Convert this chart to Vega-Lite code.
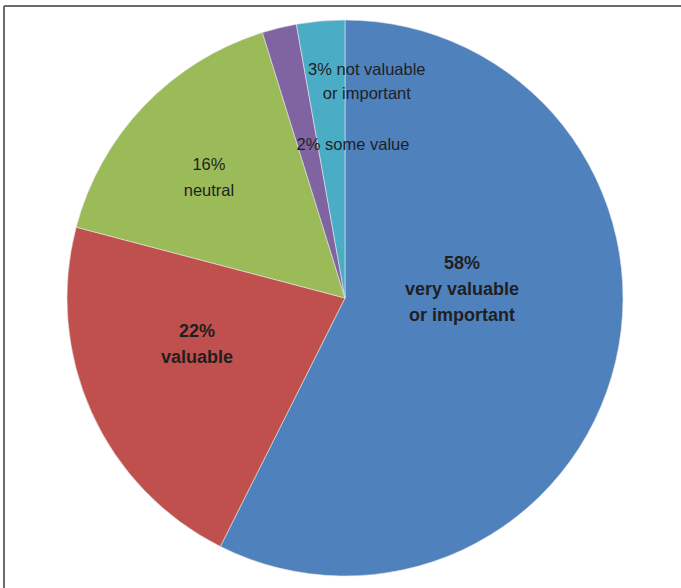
{
  "$schema": "https://vega.github.io/schema/vega-lite/v6.json",
  "width": 677,
  "height": 582,
  "autosize": {"type": "none"},
  "padding": {"left": 4, "top": 6, "right": 0, "bottom": 0},
  "background": "white",
  "config": {"view": {"stroke": null}},
  "data": {
    "values": [
      {"category": "very valuable or important", "value": 57.4, "order": 1, "label": "58%\nvery valuable\nor important"},
      {"category": "valuable", "value": 21.7, "order": 2, "label": "22%\nvaluable"},
      {"category": "neutral", "value": 16.1, "order": 3, "label": "16%\nneutral"},
      {"category": "some value", "value": 2.0, "order": 4, "label": "2% some value"},
      {"category": "not valuable or important", "value": 2.8, "order": 5, "label": "3% not valuable\nor important"}
    ]
  },
  "layer": [
    {
      "mark": {"type": "rule", "stroke": "#6b6b6b", "strokeWidth": 2},
      "encoding": {"y": {"value": 0}}
    },
    {
      "mark": {"type": "rule", "stroke": "#6b6b6b", "strokeWidth": 2},
      "encoding": {"x": {"value": 0}}
    },
    {
      "mark": {"type": "arc", "outerRadius": 278, "stroke": "#e6e6e6", "strokeWidth": 0.6, "xOffset": 2.5, "yOffset": 1},
      "encoding": {
        "theta": {"field": "value", "type": "quantitative", "stack": true},
        "order": {"field": "order", "type": "quantitative"},
        "color": {
          "field": "category",
          "type": "nominal",
          "legend": null,
          "scale": {
            "domain": ["very valuable or important", "valuable", "neutral", "some value", "not valuable or important"],
            "range": ["#4f81bd", "#c0504d", "#9bbb59", "#8064a2", "#4bacc6"]
          }
        }
      }
    },
    {
      "mark": {"type": "text", "radius": 115, "dx": 5, "dy": -60.5, "xOffset": 2.5, "yOffset": 1, "font": "Liberation Sans", "fontSize": 18, "fontWeight": "bold", "lineHeight": 26, "align": "center", "baseline": "middle", "lineBreak": "\n", "fill": "#1f1f1f"},
      "encoding": {
        "theta": {"field": "value", "type": "quantitative", "stack": true},
        "order": {"field": "order", "type": "quantitative"},
        "text": {"condition": {"test": "datum.order == 1", "field": "label"}, "value": ""}
      }
    },
    {
      "mark": {"type": "text", "radius": 155, "dx": -6.7, "dy": -29.8, "xOffset": 2.5, "yOffset": 1, "font": "Liberation Sans", "fontSize": 18, "fontWeight": "bold", "lineHeight": 26, "align": "center", "baseline": "middle", "lineBreak": "\n", "fill": "#1f1f1f"},
      "encoding": {
        "theta": {"field": "value", "type": "quantitative", "stack": true},
        "order": {"field": "order", "type": "quantitative"},
        "text": {"condition": {"test": "datum.order == 2", "field": "label"}, "value": ""}
      }
    },
    {
      "mark": {"type": "text", "radius": 180, "dx": -6, "dy": -8.6, "xOffset": 2.5, "yOffset": 1, "font": "Liberation Sans", "fontSize": 16.5, "lineHeight": 26, "align": "center", "baseline": "middle", "lineBreak": "\n", "fill": "#1f1f1f"},
      "encoding": {
        "theta": {"field": "value", "type": "quantitative", "stack": true},
        "order": {"field": "order", "type": "quantitative"},
        "text": {"condition": {"test": "datum.order == 3", "field": "label"}, "value": ""}
      }
    },
    {
      "mark": {"type": "text", "radius": 150, "dx": 43.5, "dy": -7.3, "xOffset": 2.5, "yOffset": 1, "font": "Liberation Sans", "fontSize": 16.5, "lineHeight": 24, "align": "center", "baseline": "middle", "lineBreak": "\n", "fill": "#1f1f1f"},
      "encoding": {
        "theta": {"field": "value", "type": "quantitative", "stack": true},
        "order": {"field": "order", "type": "quantitative"},
        "text": {"condition": {"test": "datum.order == 4", "field": "label"}, "value": ""}
      }
    },
    {
      "mark": {"type": "text", "radius": 215, "dx": 40.7, "dy": -13.8, "xOffset": 2.5, "yOffset": 1, "font": "Liberation Sans", "fontSize": 16.5, "lineHeight": 24, "align": "center", "baseline": "middle", "lineBreak": "\n", "fill": "#1f1f1f"},
      "encoding": {
        "theta": {"field": "value", "type": "quantitative", "stack": true},
        "order": {"field": "order", "type": "quantitative"},
        "text": {"condition": {"test": "datum.order == 5", "field": "label"}, "value": ""}
      }
    }
  ]
}
